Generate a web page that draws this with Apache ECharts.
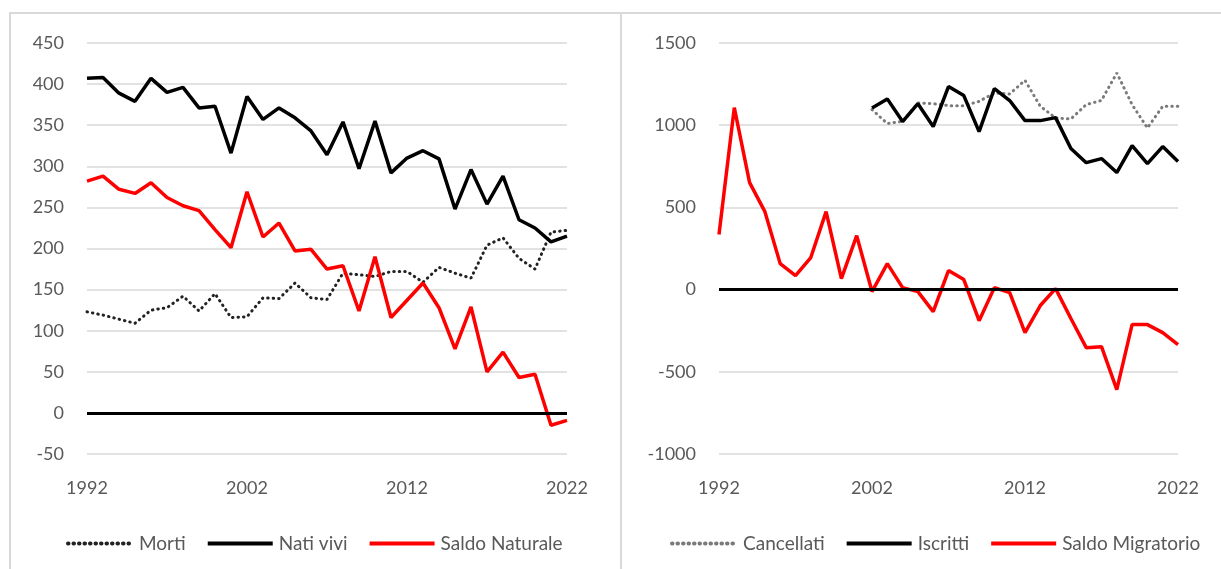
<!DOCTYPE html>
<html>
<head>
<meta charset="utf-8">
<script src="https://cdn.jsdelivr.net/npm/echarts@6/dist/echarts.min.js"></script>
<style>
  html, body { margin: 0; padding: 0; background: #fff; }
  #chart { width: 1221px; height: 569px; }
</style>
</head>
<body>
<div id="chart"></div>
<script>
  // anni 1992-2022
  const years = ['1992', '1993', '1994', '1995', '1996', '1997', '1998', '1999', '2000', '2001',
    '2002', '2003', '2004', '2005', '2006', '2007', '2008', '2009', '2010', '2011',
    '2012', '2013', '2014', '2015', '2016', '2017', '2018', '2019', '2020', '2021', '2022'];

  // bilancio naturale
  const morti = [123, 119, 114, 109, 125, 128, 142, 124, 145, 116,
    117, 140, 139, 158, 140, 138, 170, 168, 166, 172,
    172, 159, 177, 170, 164, 204, 213, 188, 175, 220, 222];
  const natiVivi = [407, 408, 389, 379, 407, 390, 396, 371, 373, 316,
    385, 357, 371, 359, 343, 314, 354, 297, 355, 292,
    310, 319, 309, 248, 296, 254, 288, 235, 225, 208, 215];
  const saldoNaturale = [282, 288, 272, 267, 280, 262, 252, 246, 223, 201,
    269, 214, 231, 197, 199, 175, 179, 124, 190, 116,
    137, 158, 128, 78, 129, 50, 74, 43, 47, -15, -9];

  // bilancio migratorio (iscritti/cancellati dal 2002)
  const cancellati = [null, null, null, null, null, null, null, null, null, null,
    1095, 1010, 1024, 1135, 1131, 1119, 1119, 1145, 1196, 1190,
    1273, 1115, 1044, 1038, 1125, 1151, 1318, 1125, 983, 1115, 1115];
  const iscritti = [null, null, null, null, null, null, null, null, null, null,
    1105, 1160, 1022, 1131, 992, 1235, 1180, 961, 1223, 1150,
    1028, 1028, 1046, 858, 772, 797, 712, 876, 766, 870, 779];
  const saldoMigratorio = [335, 1107, 651, 474, 158, 85, 195, 474, 67, 328,
    -12, 158, 12, -12, -134, 116, 61, -189, 12, -18,
    -262, -97, 6, -176, -353, -347, -608, -213, -213, -262, -334];

  const FONT = 'Lato, "Open Sans", sans-serif';
  const GREY = '#595959';

  function xAxis(gridIndex) {
    return {
      type: 'category',
      gridIndex: gridIndex,
      data: years,
      boundaryGap: false,
      axisLine: { show: false },
      axisTick: { show: false },
      axisLabel: { interval: 9, margin: 25, color: GREY, fontSize: 18, fontFamily: FONT },
      splitLine: { show: false },
    };
  }

  function yAxis(gridIndex, min, max, interval) {
    return {
      type: 'value',
      gridIndex: gridIndex,
      min: min,
      max: max,
      interval: interval,
      axisLine: { show: false },
      axisTick: { show: false },
      axisLabel: {
        margin: 23, color: GREY, fontSize: 18, fontFamily: FONT,
        formatter: (v) => String(v),
      },
      splitLine: { lineStyle: { color: '#d9d9d9', width: 1.5 } },
    };
  }

  function line(name, data, idx, color, dotted) {
    return {
      name: name,
      type: 'line',
      xAxisIndex: idx,
      yAxisIndex: idx,
      data: data,
      symbol: 'none',
      connectNulls: false,
      lineStyle: dotted
        ? { color: color, width: 3, type: [0.5, 5], cap: 'round' }
        : { color: color, width: 3.5 },
      itemStyle: { color: color },
    };
  }

  function zeroLine(idx) {
    return {
      type: 'line',
      xAxisIndex: idx,
      yAxisIndex: idx,
      data: [],
      z: 1,
      markLine: {
        silent: true,
        symbol: 'none',
        label: { show: false },
        lineStyle: { color: '#000', width: 3, type: 'solid' },
        data: [{ yAxis: 0 }],
      },
    };
  }

  const legendBase = {
    top: 529,
    itemWidth: 65,
    itemHeight: 16,
    itemGap: 20,
    itemStyle: { opacity: 0 },
    lineStyle: { width: 4 },
    textStyle: { color: GREY, fontSize: 19, fontFamily: FONT, padding: [0, 0, 0, 1] },
  };

  const chart = echarts.init(document.getElementById('chart'));
  chart.setOption({
    animation: false,
    graphic: [
      {
        type: 'rect',
        shape: { x: 10, y: 13, width: 611, height: 600 },
        style: { fill: 'none', stroke: '#d9d9d9', lineWidth: 2 },
        silent: true,
      },
      {
        type: 'rect',
        shape: { x: 621, y: 13, width: 640, height: 600 },
        style: { fill: 'none', stroke: '#d9d9d9', lineWidth: 2 },
        silent: true,
      },
    ],
    grid: [
      { left: 87, right: 654, top: 43, bottom: 115 },
      { left: 719, right: 43, top: 43, bottom: 115 },
    ],
    legend: [
      Object.assign({}, legendBase, { left: 61, data: ['Morti', 'Nati vivi', 'Saldo Naturale'] }),
      Object.assign({}, legendBase, { left: 665, data: ['Cancellati', 'Iscritti', 'Saldo Migratorio'] }),
    ],
    xAxis: [xAxis(0), xAxis(1)],
    yAxis: [yAxis(0, -50, 450, 50), yAxis(1, -1000, 1500, 500)],
    series: [
      zeroLine(0),
      line('Morti', morti, 0, '#222222', true),
      line('Nati vivi', natiVivi, 0, '#000000', false),
      line('Saldo Naturale', saldoNaturale, 0, '#ff0000', false),
      zeroLine(1),
      line('Cancellati', cancellati, 1, '#7a7a7a', true),
      line('Iscritti', iscritti, 1, '#000000', false),
      line('Saldo Migratorio', saldoMigratorio, 1, '#ff0000', false),
    ],
  });
</script>
</body>
</html>
